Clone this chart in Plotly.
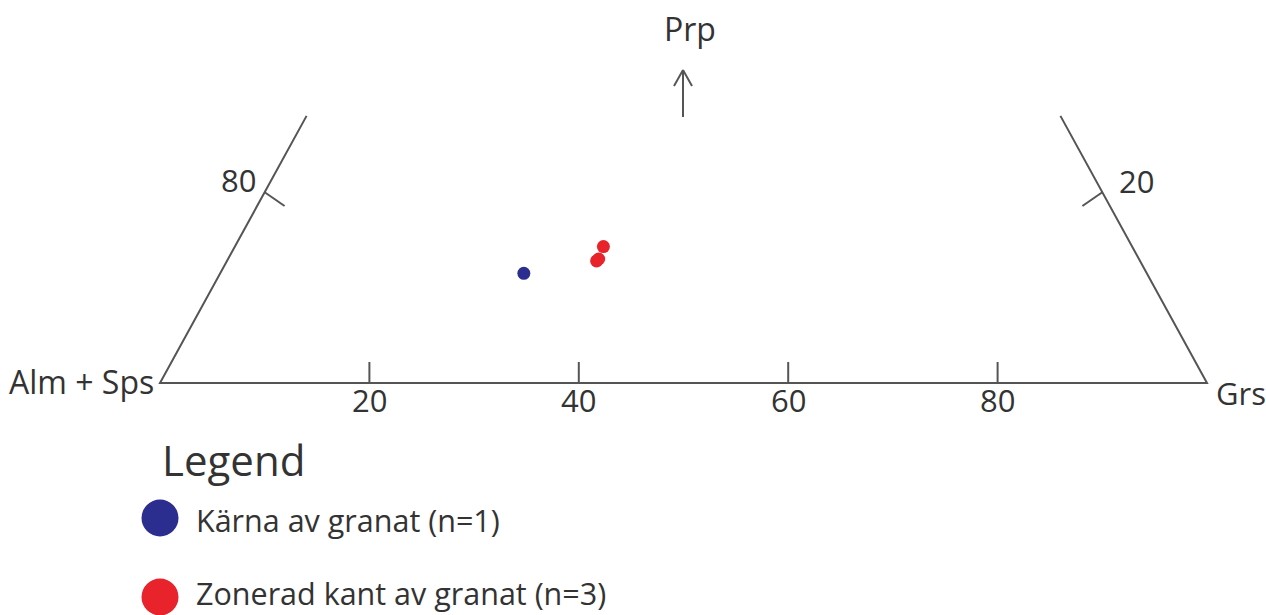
import plotly.graph_objects as go

# ---- data (ternary compositions, %) ----
core_prp = [11.5]
core_grs = [29.0]
rim_prp = [12.8, 14.3, 13.0]
rim_grs = [35.3, 35.2, 35.4]
base_ticks = [20, 40, 60, 80]
base_tick_labels = ["20", "40", "60", "80"]
side_tick_prp = 20
left_tick_label = "80"
right_tick_label = "20"
top_cut = 28  # Prp level where the diagram is truncated
legend_labels = ["Kärna av granat (n=1)", "Zonerad kant av granat (n=3)"]
colors = ["#2b2e8e", "#e8232b"]

W, H = 1266, 615
X0PX, X100PX, BASEPX = 160, 1207, 383
PXX = (X100PX - X0PX) / 100.0
PXY = 9.54
LINE = "#555555"
FONT = "Open Sans"


def tern(prp, grs):
    return [g + p / 2.0 for p, g in zip(prp, grs)], list(prp)


def px(x):
    return x / W


def py(y):
    return 1 - y / H


fig = go.Figure()

# triangle outline (truncated)
fig.add_trace(go.Scatter(
    x=[top_cut / 2.0, 0, 100, 100 - top_cut / 2.0],
    y=[top_cut, 0, 0, top_cut],
    mode="lines", line=dict(color=LINE, width=2), hoverinfo="skip", showlegend=False))

# base ticks
for t in base_ticks:
    fig.add_trace(go.Scatter(x=[t, t], y=[0, 2.2], mode="lines",
                             line=dict(color=LINE, width=2), hoverinfo="skip", showlegend=False))
# side ticks
lx = side_tick_prp / 2.0
fig.add_trace(go.Scatter(x=[lx, lx + 1.9], y=[side_tick_prp, side_tick_prp - 1.45], mode="lines",
                         line=dict(color=LINE, width=2), hoverinfo="skip", showlegend=False))
rx = 100 - side_tick_prp / 2.0
fig.add_trace(go.Scatter(x=[rx, rx - 1.9], y=[side_tick_prp, side_tick_prp - 1.45], mode="lines",
                         line=dict(color=LINE, width=2), hoverinfo="skip", showlegend=False))

# data points
cx, cy = tern(core_prp, core_grs)
fig.add_trace(go.Scatter(x=cx, y=cy, mode="markers", name=legend_labels[0],
                         marker=dict(color=colors[0], size=13), showlegend=False))
rxs, rys = tern(rim_prp, rim_grs)
fig.add_trace(go.Scatter(x=rxs, y=rys, mode="markers", name=legend_labels[1],
                         marker=dict(color=colors[1], size=13), showlegend=False))

ann = []
def text(t, x, y, size=31, xanchor="center", yanchor="middle", xref="paper", yref="paper"):
    ann.append(dict(text=t, x=x, y=y, xref=xref, yref=yref, xanchor=xanchor, yanchor=yanchor,
                    showarrow=False, font=dict(family=FONT, size=size, color="#333333")))

for t, lab in zip(base_ticks, base_tick_labels):
    text(lab, t, -1.8, xref="x", yref="y")
text(left_tick_label, px(238), py(180))
text(right_tick_label, px(1136), py(181))
text("Prp", px(690), py(29), size=32)
text("Alm + Sps", px(156), py(381), size=32, xanchor="right")
text("Grs", px(1214), py(393), size=31, xanchor="left")
text("Legend", px(160), py(459), size=42, xanchor="left")
text(legend_labels[0], px(194), py(520), size=30.5, xanchor="left")
text(legend_labels[1], px(194), py(593), size=30.5, xanchor="left")

shapes = []
# arrow
for (x0, y0, x1, y1) in [(683, 117, 683, 70), (683, 70, 674, 86), (683, 70, 692, 86)]:
    shapes.append(dict(type="line", xref="paper", yref="paper", x0=px(x0), y0=py(y0), x1=px(x1), y1=py(y1),
                       line=dict(color=LINE, width=2)))
# legend symbols
for c, yc in zip(colors, [518, 597]):
    shapes.append(dict(type="circle", xref="paper", yref="paper", xsizemode="pixel", ysizemode="pixel",
                       xanchor=px(160), yanchor=py(yc), x0=-18.5, x1=18.5, y0=-18.5, y1=18.5,
                       fillcolor=c, line=dict(width=0)))

fig.update_layout(
    width=W, height=H, margin=dict(l=0, r=0, t=0, b=0),
    paper_bgcolor="white", plot_bgcolor="white",
    xaxis=dict(range=[-X0PX / PXX, (W - X0PX) / PXX], visible=False, fixedrange=True),
    yaxis=dict(range=[-(H - BASEPX) / PXY, BASEPX / PXY], visible=False, fixedrange=True),
    annotations=ann, shapes=shapes, showlegend=False,
)
fig.write_html("out.html", config={"displayModeBar": False},
               post_script="document.body.style.margin='0px';document.body.style.overflow='hidden';")
